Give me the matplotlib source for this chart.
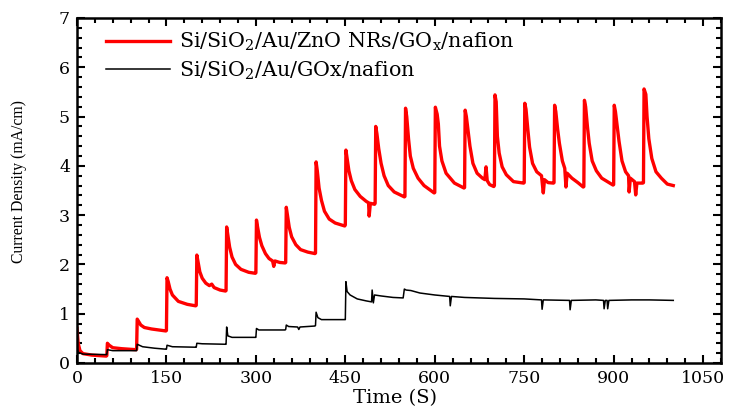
import matplotlib
matplotlib.use("Agg")
import matplotlib.pyplot as plt
from matplotlib.ticker import MultipleLocator

plt.rcParams['font.family'] = ['DejaVu Serif']
plt.rcParams['mathtext.fontset'] = 'dejavuserif'
plt.rcParams['mathtext.default'] = 'regular'

# ---- data ----
red_t = [0, 2, 5, 10, 25, 49,
         50, 51, 54, 60, 75, 99,
         100, 101, 103, 107, 113, 125, 149,
         150, 151, 153, 156, 160, 170, 185, 199,
         200, 201, 203, 206, 210, 216, 222, 226, 230, 240, 249,
         250, 251, 253, 256, 260, 266, 275, 288, 299,
         300, 301, 303, 306, 310, 316, 322, 328, 330, 332, 340, 349,
         350, 351, 353, 356, 360, 367, 375, 387, 399,
         400, 401, 403, 406, 410, 415, 423, 433, 449,
         450, 451, 453, 456, 460, 466, 475, 485, 489, 490, 492, 499,
         500, 501, 503, 506, 510, 515, 522, 532, 549,
         550, 551, 553, 556, 559, 564, 572, 582, 599,
         600, 601, 604, 606, 608, 612, 619, 633, 649,
         650, 651, 653, 656, 659, 664, 671, 680, 684, 686, 688, 692, 699,
         700, 701, 703, 705, 708, 713, 720, 732, 749,
         750, 751, 753, 756, 759, 764, 771, 779, 782, 784, 790, 799,
         800, 801, 803, 806, 809, 814, 818, 820, 822, 830, 840, 849,
         850, 851, 853, 856, 859, 864, 871, 880, 899,
         900, 901, 903, 906, 909, 914, 920, 925, 926, 928, 935, 937, 939, 949,
         950, 951, 954, 956, 959, 964, 971, 980, 990, 1000]
red_v = [0.70, 0.40, 0.25, 0.19, 0.16, 0.14,
         0.15, 0.40, 0.36, 0.31, 0.29, 0.27,
         0.28, 0.89, 0.85, 0.77, 0.72, 0.69, 0.65,
         0.66, 1.73, 1.65, 1.50, 1.38, 1.25, 1.19, 1.16,
         1.17, 2.19, 2.05, 1.85, 1.72, 1.62, 1.57, 1.60, 1.53, 1.48, 1.46,
         1.47, 2.76, 2.60, 2.35, 2.15, 2.00, 1.90, 1.84, 1.82,
         1.83, 2.90, 2.75, 2.55, 2.38, 2.22, 2.12, 2.07, 1.96, 2.07, 2.04, 2.03,
         2.04, 3.16, 3.00, 2.75, 2.56, 2.40, 2.30, 2.25, 2.22,
         2.23, 4.08, 3.90, 3.55, 3.30, 3.08, 2.92, 2.84, 2.78,
         2.80, 4.32, 4.15, 3.90, 3.70, 3.52, 3.38, 3.28, 3.25, 2.98, 3.24, 3.22,
         3.24, 4.80, 4.65, 4.35, 4.05, 3.80, 3.60, 3.47, 3.37,
         3.38, 5.17, 5.00, 4.55, 4.20, 3.95, 3.75, 3.60, 3.45,
         3.46, 5.19, 5.05, 4.85, 4.40, 4.10, 3.85, 3.65, 3.55,
         3.56, 5.13, 5.00, 4.70, 4.40, 4.05, 3.85, 3.75, 3.72, 3.98, 3.70, 3.62, 3.58,
         3.60, 5.44, 5.30, 4.60, 4.26, 3.98, 3.82, 3.68, 3.65,
         3.66, 5.27, 5.15, 4.75, 4.38, 4.05, 3.88, 3.80, 3.45, 3.72, 3.66, 3.65,
         3.66, 5.23, 5.10, 4.75, 4.46, 4.10, 3.95, 3.57, 3.85, 3.75, 3.66, 3.57,
         3.58, 5.33, 5.20, 4.80, 4.46, 4.10, 3.90, 3.75, 3.61,
         3.62, 5.23, 5.10, 4.80, 4.50, 4.10, 3.88, 3.80, 3.47, 3.75, 3.68, 3.41, 3.65, 3.65,
         3.66, 5.56, 5.45, 5.00, 4.55, 4.15, 3.88, 3.75, 3.63, 3.60]

black_t = [0, 2, 10, 49,
           50, 51, 60, 99,
           100, 101, 110, 130, 149,
           150, 151, 160, 199,
           200, 201, 210, 249,
           250, 251, 253, 260, 299,
           300, 301, 305, 349,
           350, 351, 355, 370, 372, 374, 399,
           400, 401, 404, 410, 449,
           450, 451, 453, 458, 470, 485, 494, 495, 497, 499, 510, 530, 547,
           549, 552, 560, 575, 600, 625, 626, 628, 650, 700, 750, 779, 780, 782,
           826, 827, 829, 870, 883, 884, 886, 889, 890, 892, 930, 960, 1000]
black_v = [0.30, 0.22, 0.18, 0.17,
           0.17, 0.27, 0.25, 0.25,
           0.25, 0.38, 0.33, 0.30, 0.28,
           0.28, 0.36, 0.33, 0.32,
           0.32, 0.40, 0.39, 0.38,
           0.38, 0.73, 0.55, 0.52, 0.52,
           0.52, 0.70, 0.67, 0.67,
           0.68, 0.77, 0.74, 0.73, 0.68, 0.73, 0.75,
           0.76, 1.03, 0.92, 0.88, 0.88,
           0.88, 1.65, 1.45, 1.38, 1.30, 1.26, 1.24, 1.48, 1.22, 1.38, 1.36, 1.33, 1.32,
           1.50, 1.48, 1.47, 1.42, 1.38, 1.35, 1.16, 1.35, 1.33, 1.31, 1.30, 1.28, 1.09, 1.28,
           1.27, 1.08, 1.27, 1.28, 1.27, 1.10, 1.27, 1.27, 1.10, 1.27, 1.28, 1.28, 1.27]

red_label = 'Si/SiO$_2$/Au/ZnO NRs/GO$_x$/nafion'
black_label = 'Si/SiO$_2$/Au/GOx/nafion'

fig = plt.figure(figsize=(7.29, 4.09), dpi=100)
ax = fig.add_axes([0.1056, 0.1125, 0.8834, 0.8435])

ax.plot(red_t, red_v, color='#ff0000', lw=2.4, label=red_label)
ax.plot(black_t, black_v, color='black', lw=1.1, label=black_label)

ax.set_xlim(0, 1080)
ax.set_ylim(0, 7)
ax.xaxis.set_major_locator(MultipleLocator(150))
ax.xaxis.set_minor_locator(MultipleLocator(30))
ax.yaxis.set_major_locator(MultipleLocator(1))
ax.yaxis.set_minor_locator(MultipleLocator(0.2))
ax.tick_params(which='both', direction='in', top=True, right=True, width=1.5,
               labelsize=12.5, pad=5)
ax.tick_params(which='major', length=6)
ax.tick_params(which='minor', length=3.5)
for s in ax.spines.values():
    s.set_linewidth(1.8)

ax.set_xlabel('Time (S)', fontsize=14)
ax.xaxis.set_label_coords(0.494, -0.075)
ax.set_ylabel('Current Density (mA/cm)', fontsize=11.3, family='Liberation Serif')
ax.yaxis.set_label_coords(-0.078, 0.527)

ax.legend(loc='upper left', bbox_to_anchor=(0.022, 1.005), frameon=False,
          fontsize=14.9, handlelength=3.1, handletextpad=0.45, labelspacing=0.3,
          borderaxespad=0.3)

fig.savefig('out.png', dpi=100)
